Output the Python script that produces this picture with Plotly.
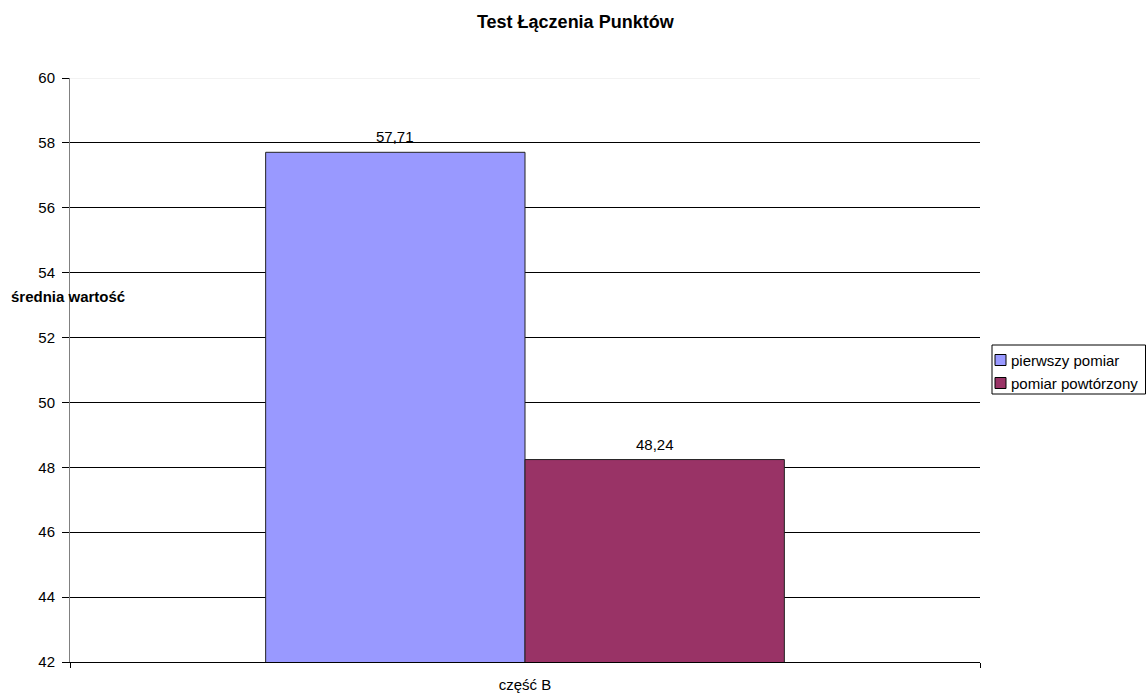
import plotly.graph_objects as go

categories = ["część B"]
series_names = ["pierwszy pomiar", "pomiar powtórzony"]
series_values = [[57.71], [48.24]]
series_colors = ["#9999FF", "#993366"]
y_ticks = [42, 44, 46, 48, 50, 52, 54, 56, 58, 60]

FONT = "Liberation Sans, Arial, sans-serif"
BARGAP = 0.43

W, H = 1146, 694
ML, MR, MT, MB = 70, 166, 78, 32
PW, PH = W - ML - MR, H - MT - MB


def px_x(px):
    return (px - ML) / PW


def px_y(py):
    return (H - MB - py) / PH


fig = go.Figure()
for name, vals, col in zip(series_names, series_values, series_colors):
    fig.add_trace(go.Bar(
        x=categories, y=vals, name=name, showlegend=False,
        marker=dict(color=col, line=dict(color="#222222", width=1)),
    ))

# value labels above each bar, positioned at the bar centres
n = len(series_names)
bar_w = (1 - BARGAP) / n
for i, vals in enumerate(series_values):
    for j, v in enumerate(vals):
        xc = j - (1 - BARGAP) / 2 + bar_w * (i + 0.5)
        fig.add_annotation(
            x=xc, y=v, xref="x", yref="y",
            text=f"{v:.2f}".replace(".", ","),
            showarrow=False, yanchor="bottom", yshift=5,
            font=dict(family=FONT, size=15, color="#000000"),
        )

# y-axis title drawn horizontally
fig.add_annotation(
    x=px_x(9), y=px_y(296), xref="paper", yref="paper",
    text="<b>średnia wartość</b>", showarrow=False,
    xanchor="left", yanchor="middle",
    font=dict(family=FONT, size=15, color="#000000"),
)

# light top border of the plot area
fig.add_shape(type="line", xref="paper", yref="y", x0=0, x1=1, y0=60, y1=60,
              line=dict(color="#E6E6E6", width=1), layer="above")

# legend box with square keys
fig.add_shape(type="rect", xref="paper", yref="paper",
              x0=px_x(992), x1=px_x(1145.5), y0=px_y(394), y1=px_y(345),
              line=dict(color="#000000", width=1), fillcolor="white")
item_y = [360, 383]
for name, col, yy in zip(series_names, series_colors, item_y):
    fig.add_shape(type="rect", xref="paper", yref="paper",
                  x0=px_x(995), x1=px_x(1006), y0=px_y(yy + 5.5), y1=px_y(yy - 5.5),
                  line=dict(color="#000000", width=1), fillcolor=col)
    fig.add_annotation(x=px_x(1009), y=px_y(yy), xref="paper", yref="paper",
                       text=name, showarrow=False, xanchor="left", yanchor="middle",
                       font=dict(family=FONT, size=15, color="#000000"))

fig.update_layout(
    width=W, height=H,
    margin=dict(l=ML, r=MR, t=MT, b=MB, autoexpand=False),
    paper_bgcolor="white", plot_bgcolor="white",
    barmode="group", bargap=BARGAP, bargroupgap=0,
    title=dict(text="<b>Test Łączenia Punktów</b>", x=0.502, xanchor="center",
               y=1 - 22 / H, yanchor="middle",
               font=dict(family=FONT, size=18, color="#000000")),
    font=dict(family=FONT, size=15, color="#000000"),
    showlegend=False,
)
fig.update_xaxes(
    showline=True, linecolor="#000000", linewidth=1,
    ticks="outside", tickson="boundaries", ticklen=5, tickcolor="#000000",
    showgrid=False, tickfont=dict(family=FONT, size=15),
    ticklabelstandoff=9, automargin=False,
)
fig.update_yaxes(
    range=[42, 60], tickvals=y_ticks,
    showline=True, linecolor="#808080", linewidth=1,
    ticks="outside", ticklen=7, tickcolor="#000000",
    showgrid=True, gridcolor="#000000", gridwidth=1,
    zeroline=False, tickfont=dict(family=FONT, size=15),
    ticklabelstandoff=4, automargin=False,
)

fig.write_html("out.html")
